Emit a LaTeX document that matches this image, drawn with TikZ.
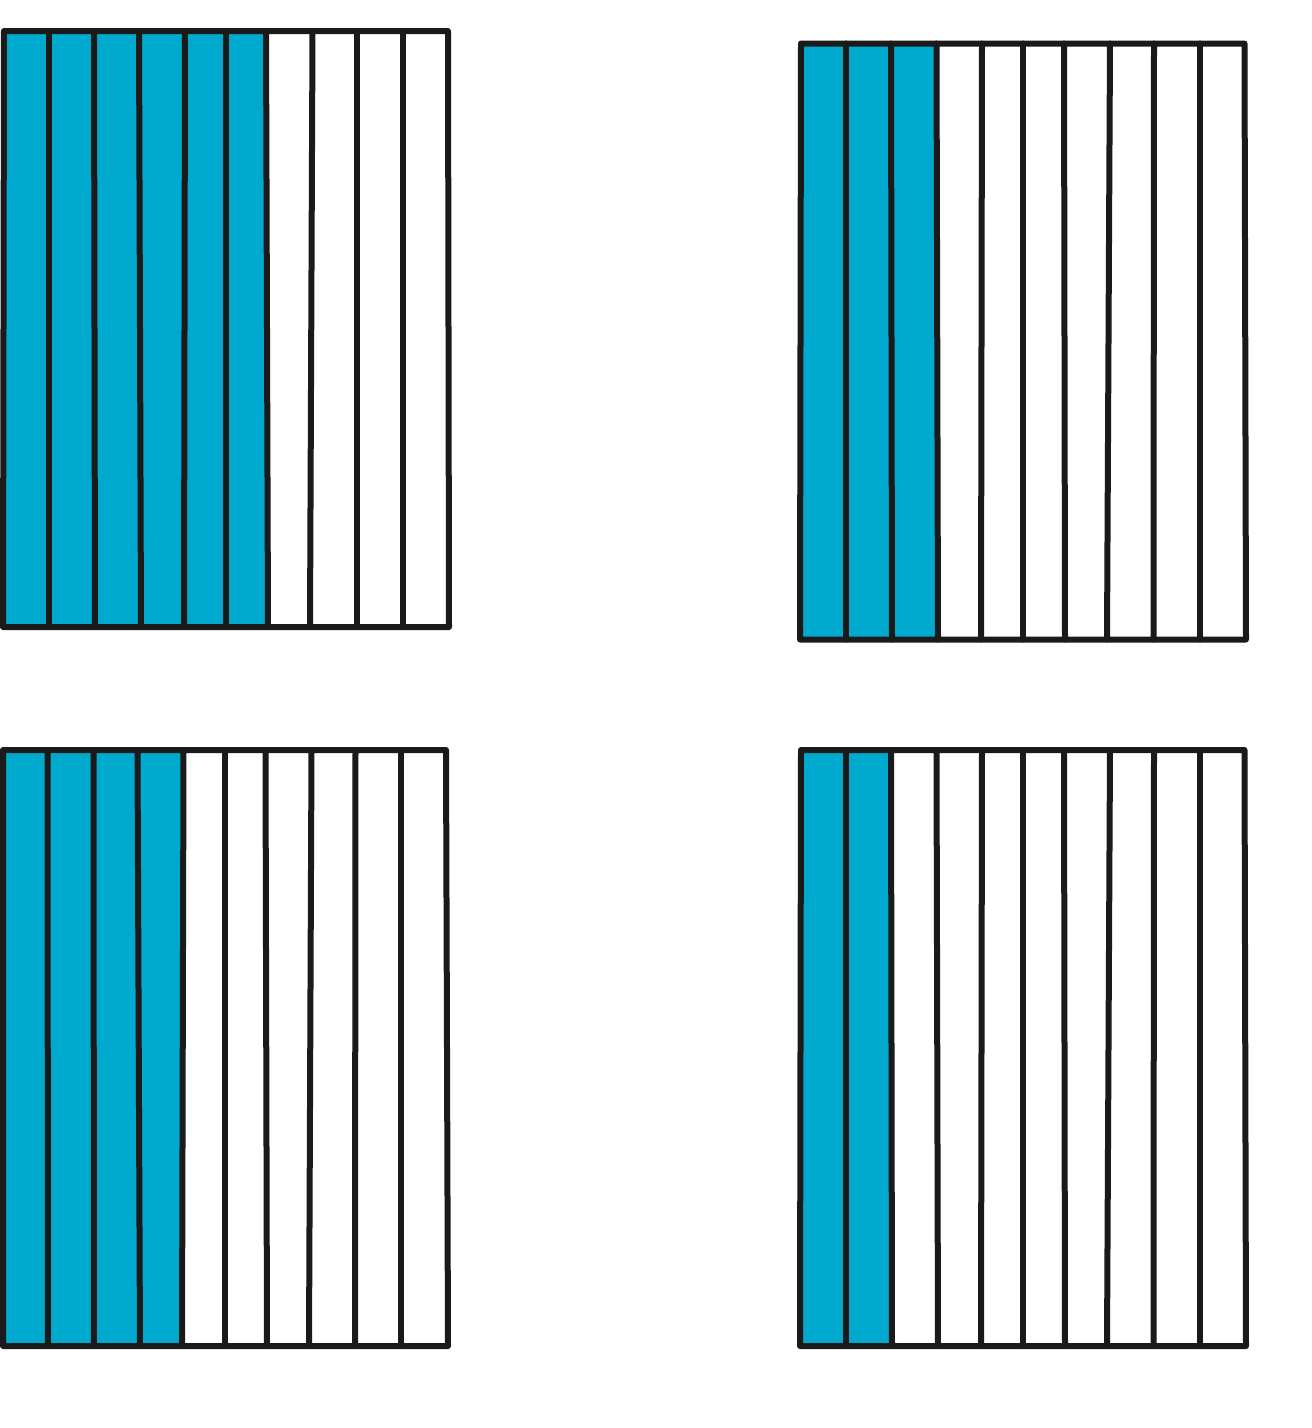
\documentclass[tikz,border=0pt]{standalone}
\definecolor{barblue}{HTML}{00A9CE}
\definecolor{ink}{HTML}{1A1A1A}
\tikzset{
  gridline/.style={draw=ink, line width=6pt, line cap=round, line join=round},
  strip/.style={fill=barblue}
}
% #1 name, #2 top y, #3 bottom y, #4 number of filled strips, #5 list top/bottom x
\newcommand\stripspanel[5]{%
  \foreach \t/\b [count=\i] in {#5} {%
    \coordinate (#1-t\i) at (\t,#2);
    \coordinate (#1-b\i) at (\b,#3);
  }
  \foreach \i in {1,...,#4} {%
    \pgfmathtruncatemacro\j{\i+1}
    \fill[strip] (#1-t\i) -- (#1-t\j) -- (#1-b\j) -- (#1-b\i) -- cycle;
  }
  \foreach \i in {2,...,10} {\draw[gridline] (#1-t\i) -- (#1-b\i);}
  \draw[gridline] (#1-t1) -- (#1-t11) -- (#1-b11) -- (#1-b1) -- cycle;
}
\begin{document}
\begin{tikzpicture}[x=1pt,y=-1pt]
\useasboundingbox (0,0) rectangle (1312,1428);
\stripspanel{A}{31}{627}{6}{4/3, 48.5/48.5, 94/95, 139/141, 185/184, 226/226, 266/268, 312.5/310, 357/357, 402.5/402.5, 448/449}
\stripspanel{B}{43.5}{639.5}{3}{801/800, 846/846, 891/892, 936.5/938, 982/981, 1023/1023, 1064/1065, 1110/1107, 1154/1153.5, 1200/1200, 1244.5/1246}
\stripspanel{C}{750}{1346}{4}{3/3, 47.5/48, 93.5/94, 137.5/140, 183.5/182, 224.5/224.5, 265.5/267, 311.5/309, 355.5/355, 401/401, 446/448}
\stripspanel{D}{750}{1346}{2}{801/800, 846/846, 891/892, 936.5/938, 982/981, 1023/1023, 1064/1065, 1110/1107, 1154/1153.5, 1200/1200, 1244.5/1246}
\end{tikzpicture}
\end{document}
